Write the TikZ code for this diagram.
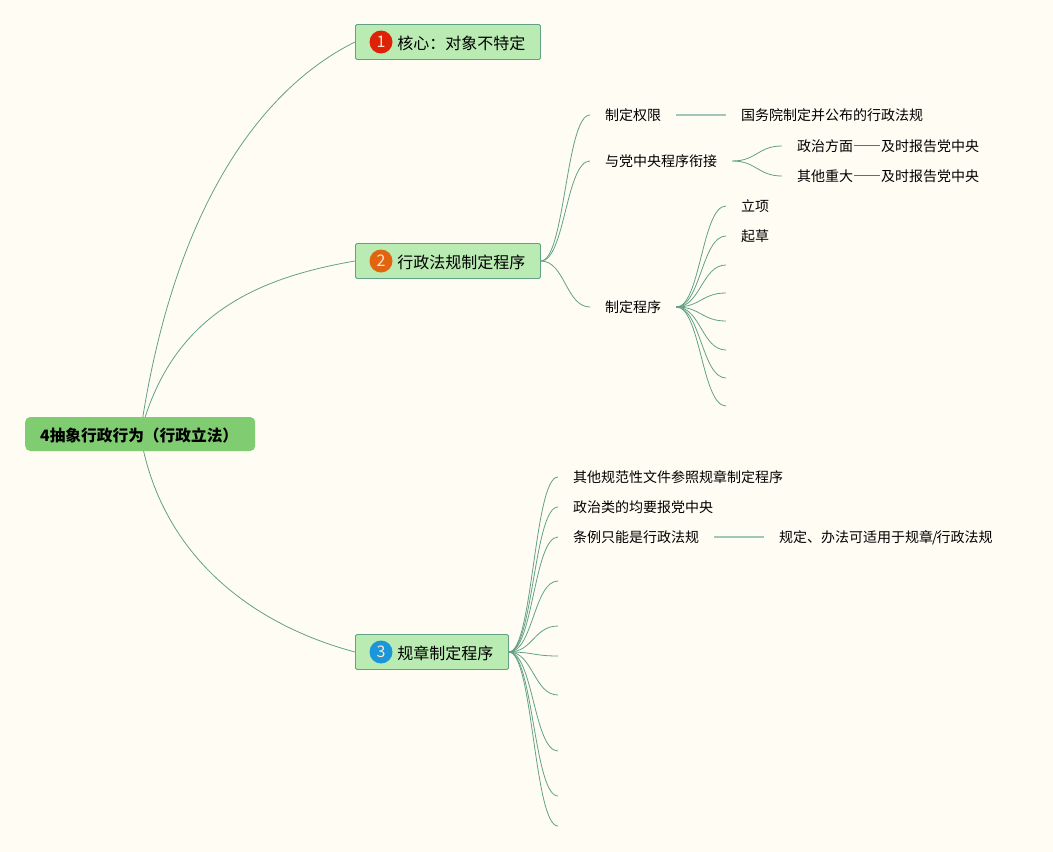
\documentclass[tikz,border=0pt]{standalone}
\usepackage{fontspec}
\setmainfont{Noto Sans CJK SC}
\newfontfamily\dashfont[CharacterWidth=Full]{Noto Sans CJK SC}
\pgfdeclarelayer{background}
\pgfsetlayers{background,main}
\definecolor{paper}{HTML}{FFFDF3}
\definecolor{rootgreen}{HTML}{80CC70}
\definecolor{boxgreen}{HTML}{B9EBB2}
\definecolor{linegreen}{HTML}{62A186}
\definecolor{iconred}{HTML}{DD2207}
\definecolor{iconorange}{HTML}{E2640F}
\definecolor{iconblue}{HTML}{1B96D9}
% leaves of the second and third branch that carry no text
\def\programEnds{{265/c}, {293/d}, {321/e}, {350/f}, {378/g}, {406/h}}
\def\ruleEnds{{581/d}, {626/e}, {656/f}, {695/g}, {751/h}, {796/i}, {826/j}}
\def\baseConnect{two/power, two/link, two/program, link/politics, link/major, program/p-a, program/p-b, program/p-c, program/p-d, program/p-e, program/p-f, program/p-g, program/p-h, three/r-a, three/r-b, three/r-c, three/r-d, three/r-e, three/r-f, three/r-g, three/r-h, three/r-i, three/r-j}
\tikzstyle{root}=[fill=rootgreen,rounded corners=5pt,anchor=west,minimum height=34pt,minimum width=230pt,text height=16pt,text depth=0.5pt,font=\fontsize{15.7}{18}\selectfont\bfseries]
\tikzstyle{branch}=[draw=linegreen,line width=0.9pt,fill=boxgreen,rounded corners=1.5pt,anchor=west,minimum height=35pt,inner xsep=15pt,text height=16pt,text depth=0.5pt,font=\fontsize{16}{18}\selectfont]
\tikzstyle{icon}=[circle,minimum size=23pt,inner sep=0pt,text=white!80!orange,font=\fontsize{16}{18}\selectfont]
\tikzstyle{leaf}=[anchor=west,inner xsep=15pt,inner ysep=2pt,text height=12.6pt,text depth=0.7pt,font=\fontsize{14}{16}\selectfont]
\tikzstyle{edge} = [draw,linegreen,line width=0.8pt,-]
\tikzstyle{flat edge} = [draw,linegreen!60,line width=1.3pt,-]

\begin{document}
\begin{tikzpicture}[x=1pt,y=-1pt]
  \useasboundingbox (0,0) rectangle (1053,852);

  % We draw the root and the three branches
  \node[root] (root) at (25,434) {4抽象行政行为（行政立法）\hspace*{2pt}};
  \node[branch] (one) at (355,42) {\hspace*{27pt}核心：对象不特定};
  \node[branch] (two) at (355,261) {\hspace*{27pt}行政法规制定程序};
  \node[branch] (three) at (355,652) {\hspace*{27pt}规章制定程序};
  \foreach \name/\col/\num in {one/iconred/1, two/iconorange/2, three/iconblue/3}
    \node[icon,fill=\col] (\name-icon) at ([xshift=26pt]\name.west) {\num};

  % Then the leaves of the second branch
  \node[leaf] (power) at (590,115) {制定权限};
  \node[leaf] (state) at (726,115) {国务院制定并公布的行政法规};
  \node[leaf] (link) at (590,161) {与党中央程序衔接};
  \node[leaf] (politics) at (782,146) {政治方面{\dashfont ——}及时报告党中央};
  \node[leaf] (major) at (782,176) {其他重大{\dashfont ——}及时报告党中央};
  \node[leaf] (program) at (590,307) {制定程序};
  \node[leaf] (p-a) at (726,206) {立项};
  \node[leaf] (p-b) at (726,236) {起草};
  \foreach \ypos/\name in \programEnds
    \coordinate (p-\name) at (726,\ypos);

  % And those of the third one
  \node[leaf] (r-a) at (558,477) {其他规范性文件参照规章制定程序};
  \node[leaf] (r-b) at (558,507) {政治类的均要报党中央};
  \node[leaf] (r-c) at (558,537) {条例只能是行政法规};
  \node[leaf] (r-note) at (764,537) {规定、办法可适用于规章\kern-1pt/\kern-1pt行政法规};
  \foreach \ypos/\name in \ruleEnds
    \coordinate (r-\name) at (558,\ypos);

  % Connect the nodes
  \foreach \source/ \dest in \baseConnect
    \path[edge] (\source.east) .. controls +(24,0) and +(-24,0) .. (\dest.west);
  \foreach \source/ \dest in {power/state, r-c/r-note}
    \path[flat edge] (\source.east) -- (\dest.west);

  \begin{pgfonlayer}{background}
    \fill[paper] (0,0) rectangle (1053,852);
    \path[edge] (root.center) .. controls +(35,-240) and +(-85,42) .. (one.west);
    \path[edge] (root.center) .. controls +(30,-115) and +(-105,18) .. (two.west);
    \path[edge] (root.center) .. controls +(20,120) and +(-105,-28) .. (three.west);
  \end{pgfonlayer}
\end{tikzpicture}
\end{document}
